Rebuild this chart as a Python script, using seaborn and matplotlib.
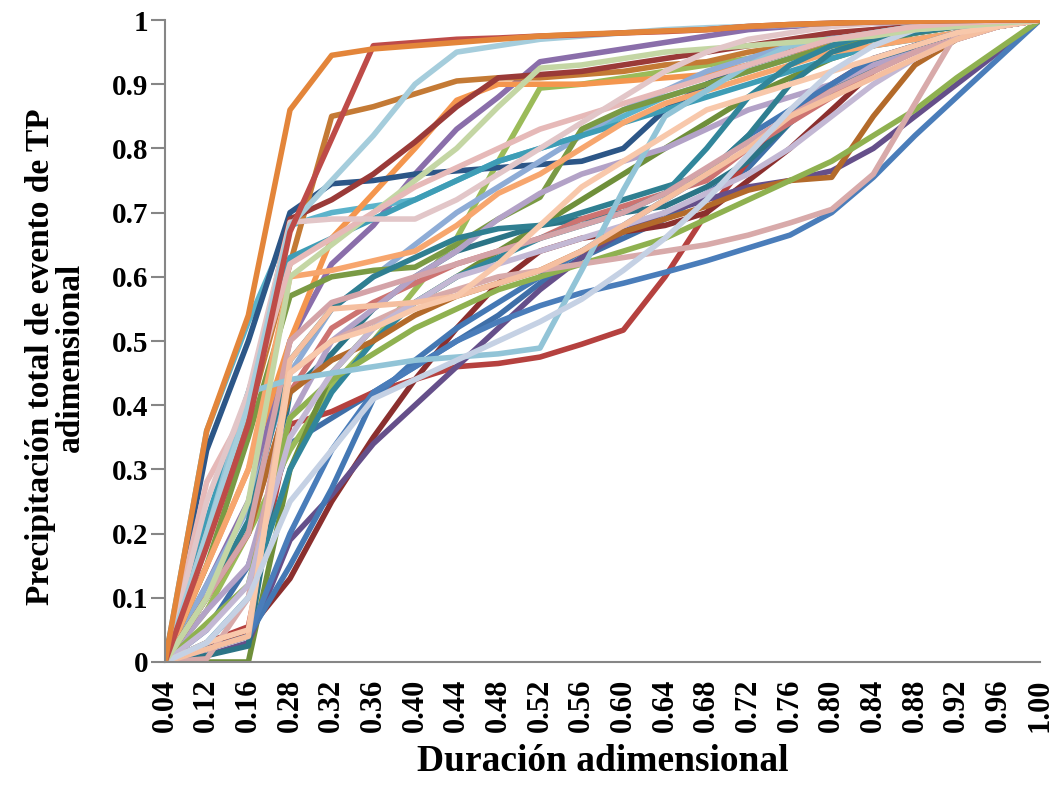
import matplotlib
matplotlib.use("Agg")
import matplotlib.pyplot as plt
import seaborn as sns
import pandas as pd

# Dimensionless duration categories (x axis)
duracion = ["0.04", "0.12", "0.16", "0.28", "0.32", "0.36", "0.40", "0.44", "0.48", "0.52",
            "0.56", "0.60", "0.64", "0.68", "0.72", "0.76", "0.80", "0.84", "0.88", "0.92",
            "0.96", "1.00"]

# Dimensionless cumulative precipitation, one curve per storm event
ev01 = [0, 0.05, 0.15, 0.34, 0.38, 0.42, 0.46, 0.50, 0.54, 0.59, 0.63, 0.66, 0.69, 0.73, 0.77, 0.84, 0.89, 0.93, 0.96, 0.98, 0.99, 1]
ev02 = [0, 0.03, 0.055, 0.37, 0.39, 0.42, 0.44, 0.46, 0.465, 0.475, 0.495, 0.517, 0.60, 0.70, 0.78, 0.85, 0.90, 0.94, 0.96, 0.98, 0.99, 1]
ev03 = [0, 0.08, 0.20, 0.33, 0.43, 0.50, 0.58, 0.66, 0.78, 0.894, 0.90, 0.91, 0.92, 0.93, 0.94, 0.95, 0.96, 0.97, 0.98, 0.99, 0.995, 1]
ev04 = [0, 0.12, 0.25, 0.50, 0.62, 0.68, 0.76, 0.83, 0.88, 0.935, 0.945, 0.955, 0.965, 0.975, 0.985, 0.99, 0.993, 0.995, 0.997, 0.998, 0.999, 1]
ev05 = [0, 0.36, 0.53, 0.68, 0.70, 0.71, 0.72, 0.75, 0.78, 0.80, 0.82, 0.85, 0.88, 0.90, 0.92, 0.94, 0.96, 0.97, 0.98, 0.99, 0.995, 1]
ev06 = [0, 0.15, 0.30, 0.50, 0.66, 0.73, 0.80, 0.875, 0.90, 0.90, 0.90, 0.905, 0.91, 0.915, 0.93, 0.95, 0.96, 0.97, 0.98, 0.99, 0.995, 1]
ev07 = [0, 0.33, 0.50, 0.70, 0.745, 0.75, 0.76, 0.765, 0.77, 0.775, 0.78, 0.80, 0.86, 0.90, 0.93, 0.95, 0.97, 0.98, 0.99, 0.995, 0.998, 1]
ev08 = [0, 0.02, 0.05, 0.13, 0.25, 0.35, 0.44, 0.52, 0.59, 0.64, 0.66, 0.67, 0.68, 0.70, 0.75, 0.80, 0.86, 0.92, 0.96, 0.98, 0.99, 1]
ev09 = [0, 0.0, 0.0, 0.30, 0.45, 0.52, 0.56, 0.60, 0.64, 0.68, 0.72, 0.76, 0.80, 0.84, 0.88, 0.91, 0.94, 0.96, 0.98, 0.99, 0.995, 1]
ev10 = [0, 0.01, 0.03, 0.19, 0.26, 0.34, 0.40, 0.46, 0.52, 0.58, 0.63, 0.67, 0.70, 0.72, 0.74, 0.75, 0.765, 0.80, 0.85, 0.90, 0.95, 1]
ev11 = [0, 0.01, 0.025, 0.42, 0.48, 0.55, 0.60, 0.64, 0.66, 0.68, 0.69, 0.70, 0.71, 0.74, 0.78, 0.84, 0.89, 0.93, 0.96, 0.98, 0.99, 1]
ev12 = [0, 0.20, 0.38, 0.62, 0.85, 0.865, 0.885, 0.905, 0.91, 0.91, 0.915, 0.92, 0.93, 0.935, 0.95, 0.96, 0.97, 0.98, 0.99, 0.995, 0.998, 1]
ev13 = [0, 0.12, 0.24, 0.45, 0.55, 0.60, 0.65, 0.70, 0.74, 0.78, 0.82, 0.86, 0.89, 0.92, 0.94, 0.96, 0.975, 0.985, 0.99, 0.995, 0.998, 1]
ev14 = [0, 0.10, 0.20, 0.42, 0.52, 0.56, 0.59, 0.62, 0.64, 0.66, 0.69, 0.71, 0.73, 0.75, 0.80, 0.84, 0.88, 0.92, 0.95, 0.97, 0.99, 1]
ev15 = [0, 0.15, 0.35, 0.57, 0.60, 0.61, 0.615, 0.65, 0.69, 0.724, 0.83, 0.86, 0.88, 0.90, 0.92, 0.94, 0.96, 0.97, 0.98, 0.99, 0.995, 1]
ev16 = [0, 0.08, 0.15, 0.38, 0.50, 0.55, 0.60, 0.64, 0.69, 0.73, 0.76, 0.78, 0.80, 0.83, 0.86, 0.88, 0.90, 0.93, 0.95, 0.97, 0.99, 1]
ev17 = [0, 0.22, 0.42, 0.63, 0.66, 0.69, 0.72, 0.75, 0.78, 0.80, 0.82, 0.84, 0.86, 0.88, 0.90, 0.92, 0.94, 0.96, 0.97, 0.98, 0.99, 1]
ev18 = [0, 0.15, 0.30, 0.60, 0.61, 0.625, 0.64, 0.68, 0.73, 0.76, 0.80, 0.84, 0.87, 0.89, 0.91, 0.93, 0.95, 0.96, 0.97, 0.98, 0.99, 1]
ev19 = [0, 0.02, 0.04, 0.15, 0.27, 0.41, 0.47, 0.52, 0.56, 0.60, 0.64, 0.68, 0.72, 0.76, 0.82, 0.86, 0.90, 0.94, 0.96, 0.98, 0.99, 1]
ev20 = [0, 0.20, 0.40, 0.69, 0.72, 0.76, 0.81, 0.865, 0.91, 0.915, 0.92, 0.93, 0.94, 0.95, 0.96, 0.97, 0.98, 0.985, 0.99, 0.995, 0.998, 1]
ev21 = [0, 0.02, 0.04, 0.20, 0.33, 0.42, 0.46, 0.50, 0.53, 0.555, 0.575, 0.59, 0.607, 0.625, 0.645, 0.665, 0.70, 0.755, 0.82, 0.88, 0.94, 1]
ev22 = [0, 0.10, 0.22, 0.47, 0.55, 0.60, 0.63, 0.66, 0.675, 0.68, 0.70, 0.72, 0.74, 0.76, 0.82, 0.90, 0.95, 0.97, 0.98, 0.99, 0.995, 1]
ev23 = [0, 0.03, 0.10, 0.30, 0.42, 0.50, 0.56, 0.60, 0.63, 0.66, 0.68, 0.70, 0.73, 0.80, 0.88, 0.93, 0.96, 0.98, 0.99, 0.995, 0.998, 1]
ev24 = [0, 0.10, 0.20, 0.42, 0.47, 0.50, 0.54, 0.57, 0.59, 0.61, 0.64, 0.67, 0.69, 0.71, 0.735, 0.75, 0.755, 0.85, 0.93, 0.97, 0.99, 1]
ev25 = [0, 0.06, 0.12, 0.38, 0.44, 0.48, 0.52, 0.55, 0.58, 0.60, 0.62, 0.64, 0.66, 0.69, 0.72, 0.75, 0.78, 0.82, 0.86, 0.91, 0.955, 1]
ev26 = [0, 0.005, 0.10, 0.45, 0.50, 0.53, 0.56, 0.58, 0.60, 0.61, 0.62, 0.63, 0.64, 0.65, 0.665, 0.684, 0.705, 0.76, 0.87, 0.98, 0.99, 1]
ev27 = [0, 0.10, 0.20, 0.50, 0.56, 0.58, 0.60, 0.62, 0.64, 0.66, 0.68, 0.70, 0.73, 0.77, 0.81, 0.85, 0.89, 0.92, 0.95, 0.97, 0.99, 1]
ev28 = [0, 0.05, 0.12, 0.35, 0.45, 0.52, 0.56, 0.60, 0.62, 0.64, 0.66, 0.68, 0.70, 0.73, 0.76, 0.80, 0.85, 0.90, 0.94, 0.97, 0.99, 1]
ev29 = [0, 0.20, 0.42, 0.44, 0.45, 0.46, 0.47, 0.475, 0.48, 0.489, 0.61, 0.735, 0.85, 0.89, 0.93, 0.96, 0.97, 0.98, 0.99, 0.995, 0.998, 1]
ev30 = [0, 0.02, 0.04, 0.47, 0.55, 0.555, 0.56, 0.57, 0.59, 0.61, 0.64, 0.68, 0.72, 0.76, 0.80, 0.85, 0.88, 0.91, 0.94, 0.97, 0.99, 1]
ev31 = [0, 0.03, 0.05, 0.45, 0.50, 0.52, 0.55, 0.57, 0.62, 0.68, 0.74, 0.78, 0.82, 0.86, 0.88, 0.90, 0.92, 0.94, 0.96, 0.98, 0.99, 1]
ev32 = [0, 0.03, 0.10, 0.25, 0.33, 0.41, 0.44, 0.47, 0.50, 0.53, 0.565, 0.61, 0.66, 0.72, 0.79, 0.86, 0.92, 0.96, 0.985, 0.99, 0.995, 1]
ev33 = [0, 0.10, 0.25, 0.60, 0.65, 0.70, 0.75, 0.80, 0.865, 0.925, 0.93, 0.94, 0.95, 0.955, 0.96, 0.965, 0.97, 0.975, 0.985, 0.99, 0.995, 1]
ev34 = [0, 0.28, 0.40, 0.62, 0.66, 0.70, 0.74, 0.77, 0.80, 0.83, 0.85, 0.87, 0.89, 0.91, 0.93, 0.95, 0.97, 0.98, 0.99, 0.995, 0.998, 1]
ev35 = [0, 0.25, 0.42, 0.685, 0.69, 0.69, 0.69, 0.72, 0.76, 0.80, 0.84, 0.88, 0.92, 0.95, 0.97, 0.98, 0.99, 0.995, 0.998, 0.999, 1, 1]
ev36 = [0, 0.20, 0.40, 0.68, 0.75, 0.82, 0.90, 0.95, 0.96, 0.97, 0.975, 0.98, 0.985, 0.988, 0.99, 0.992, 0.995, 0.997, 0.998, 0.999, 1, 1]
ev37 = [0, 0.18, 0.37, 0.67, 0.815, 0.96, 0.965, 0.97, 0.972, 0.975, 0.977, 0.98, 0.982, 0.985, 0.99, 0.993, 0.995, 0.997, 0.998, 0.999, 1, 1]
ev38 = [0, 0.36, 0.54, 0.86, 0.945, 0.955, 0.96, 0.965, 0.97, 0.975, 0.978, 0.98, 0.983, 0.985, 0.99, 0.993, 0.995, 0.997, 0.998, 0.999, 1, 1]

eventos = [ev01, ev02, ev03, ev04, ev05, ev06, ev07, ev08, ev09, ev10, ev11, ev12, ev13,
           ev14, ev15, ev16, ev17, ev18, ev19, ev20, ev21, ev22, ev23, ev24, ev25, ev26,
           ev27, ev28, ev29, ev30, ev31, ev32, ev33, ev34, ev35, ev36, ev37, ev38]

colores = ["#3F6FA8", "#B5413F", "#9BBB59", "#8A6EAA", "#5BB3CB", "#F4964E",
           "#2C5687", "#8B2F2E", "#6F8F3A", "#654F8A", "#2B7486", "#C47A35",
           "#8EACD6", "#CD7371", "#7A9A44", "#B3A2C7", "#3E9DB6", "#F7A66E",
           "#4478B4", "#9A3A38", "#4A7DBA", "#2F7F91", "#31869B", "#B36A2A",
           "#8FB150", "#D8AAAA", "#D4A3A8", "#C3B8D4", "#92C4D7", "#F5BFA0",
           "#F8C8AB", "#C5D1E4", "#C4D6A4", "#E6B9B8", "#E2C6C8", "#A5CDDC",
           "#BE4B48", "#E3853A"]

rows = []
for k, serie in enumerate(eventos):
    for i, v in enumerate(serie):
        rows.append({"pos": i, "valor": v, "evento": f"E{k + 1:02d}"})
df = pd.DataFrame(rows)

sns.set_style("white")
plt.rcParams["font.family"] = ["Liberation Serif", "DejaVu Serif"]
plt.rcParams["font.weight"] = "bold"
plt.rcParams["text.color"] = "black"
plt.rcParams["axes.labelcolor"] = "black"
plt.rcParams["xtick.color"] = "black"
plt.rcParams["ytick.color"] = "black"

fig = plt.figure(figsize=(10.55, 7.88), dpi=100)
ax = fig.add_axes([0.1564, 0.1599, 0.8294, 0.8147])

sns.lineplot(data=df, x="pos", y="valor", hue="evento", palette=colores,
             linewidth=4, legend=False, ax=ax, sort=False)

ax.set_xlim(0, len(duracion) - 1)
ax.set_ylim(0, 1)
ax.set_xticks(range(len(duracion)))
ax.set_xticklabels(duracion, rotation=90, fontsize=22, fontweight="bold")
yt = [0, 0.1, 0.2, 0.3, 0.4, 0.5, 0.6, 0.7, 0.8, 0.9, 1]
ax.set_yticks(yt)
ax.set_yticklabels(["0", "0.1", "0.2", "0.3", "0.4", "0.5", "0.6", "0.7", "0.8", "0.9", "1"],
                   fontsize=21, fontweight="bold")

ax.tick_params(axis="y", direction="out", length=10, width=1.5, color="#868686",
               labelcolor="black", pad=2, left=True)
ax.tick_params(axis="x", length=0, pad=12, labelcolor="black")

for s in ["top", "right"]:
    ax.spines[s].set_visible(False)
for s in ["left", "bottom"]:
    ax.spines[s].set_color("#868686")
    ax.spines[s].set_linewidth(1.5)

ax.set_xlabel("Duración adimensional", fontsize=27, fontweight="bold", color="black")
ax.xaxis.set_label_coords(0.5, -0.128)
ax.set_ylabel("Precipitación total de evento de TP\nadimensional", fontsize=24,
              fontweight="bold", color="black", linespacing=0.95,
              multialignment="center")
ax.yaxis.set_label_coords(-0.09, 0.475)

fig.savefig("out.png", dpi=100)
